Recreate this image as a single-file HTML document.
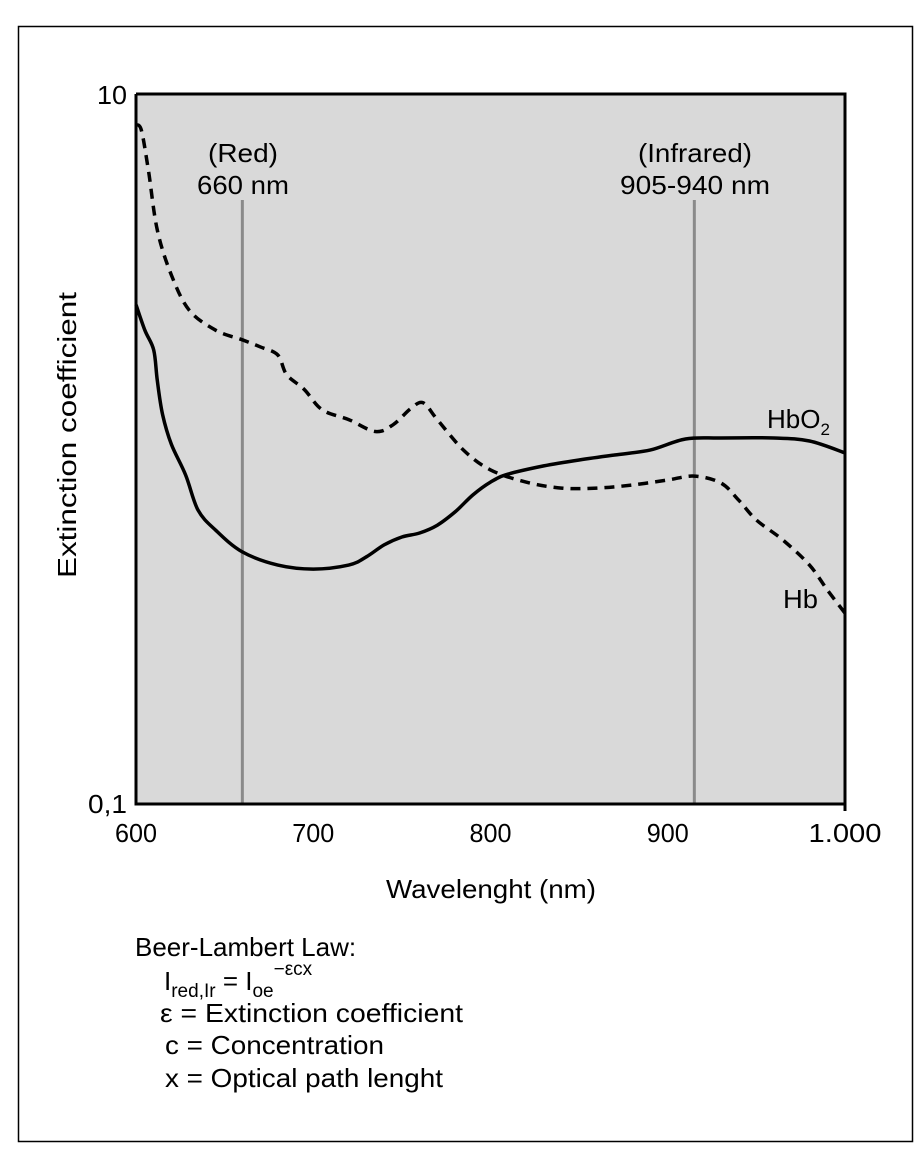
<!DOCTYPE html>
<html><head><meta charset="utf-8"><style>
html,body{margin:0;padding:0;background:#fff;}
svg{display:block;font-family:"Liberation Sans",Arial,sans-serif;}
</style></head><body>
<svg id="chart" width="924" height="1154" viewBox="0 0 924 1154" xmlns="http://www.w3.org/2000/svg">
<rect x="18.5" y="26.5" width="894" height="1115" fill="none" stroke="#000" stroke-width="1.5"/>
<rect x="136" y="94" width="709" height="710" fill="#d9d9d9"/>
<g id="marks"></g>
<path d="M136,94 H845 V811 M845,804 H136 V94" fill="none" stroke="#000" stroke-width="3"/>
<g font-size="26" fill="#000">
<text x="127" y="104" text-anchor="end" textLength="30" lengthAdjust="spacingAndGlyphs">10</text>
<text x="127" y="813" text-anchor="end" textLength="39" lengthAdjust="spacingAndGlyphs">0,1</text>
<text x="243" y="162" text-anchor="middle" textLength="70" lengthAdjust="spacingAndGlyphs">(Red)</text>
<text x="243" y="194" text-anchor="middle" textLength="92" lengthAdjust="spacingAndGlyphs">660 nm</text>
<text x="695" y="162" text-anchor="middle" textLength="114" lengthAdjust="spacingAndGlyphs">(Infrared)</text>
<text x="695" y="194" text-anchor="middle" textLength="150" lengthAdjust="spacingAndGlyphs">905-940 nm</text>
<text x="767" y="428">HbO<tspan font-size="17" dy="7">2</tspan></text>
<text x="783" y="608" textLength="35" lengthAdjust="spacingAndGlyphs">Hb</text>
<text x="491" y="898" text-anchor="middle" textLength="210" lengthAdjust="spacingAndGlyphs">Wavelenght (nm)</text>
<text transform="translate(76,435) rotate(-90)" text-anchor="middle" textLength="286" lengthAdjust="spacingAndGlyphs">Extinction coefficient</text>
<g>
<text x="135" y="956">Beer-Lambert Law:</text>
<text x="164" y="990">I<tspan font-size="19" dy="7">red,Ir</tspan><tspan dy="-7"> = I</tspan><tspan font-size="19" dy="7">oe</tspan><tspan font-size="19" dy="-22">−εcx</tspan></text>
<text x="160" y="1022" textLength="303" lengthAdjust="spacingAndGlyphs">ε = Extinction coefficient</text>
<text x="165" y="1054" textLength="219" lengthAdjust="spacingAndGlyphs">c = Concentration</text>
<text x="165" y="1087" textLength="278" lengthAdjust="spacingAndGlyphs">x = Optical path lenght</text>
</g>
</g>
<g id="xticks" font-size="26"></g>
</svg>
<script>
const xTicks=[600,700,800,900,1000];
const xTickLabels=["600","700","800","900","1.000"];
const markerWavelengths=[660,915];
const hbo2X=[600,605,610,612,615,620,628,635,645,660,680,700,720,730,740,750,760,770,780,790,800,810,830,850,870,890,910,930,960,980,1000];
const hbo2Y=[2.55,2.16,1.90,1.56,1.25,1.03,0.845,0.673,0.59,0.513,0.471,0.459,0.471,0.497,0.537,0.565,0.58,0.61,0.665,0.742,0.807,0.85,0.896,0.931,0.962,0.993,1.067,1.074,1.074,1.053,0.975];
const hbX=[600,603,607,612,620,630,645,660,670,680,685,695,705,720,735,745,755,762,770,785,800,820,840,860,880,900,915,930,940,950,965,980,990,1000];
const hbY=[8.18,7.92,6.1,4.14,3.09,2.46,2.16,2.03,1.94,1.84,1.62,1.47,1.29,1.21,1.12,1.17,1.30,1.35,1.21,0.99,0.873,0.807,0.776,0.776,0.792,0.818,0.839,0.802,0.718,0.631,0.554,0.471,0.401,0.345];
const X0=136,X1=845,Y0=804,Y1=94;
function sx(v){return X0+(v-600)/(1000-600)*(X1-X0);}
function sy(v){return Y0-(Math.log10(v)-Math.log10(0.1))/(Math.log10(10)-Math.log10(0.1))*(Y0-Y1);}
function smooth(xs,ys){
  const p=xs.map((x,i)=>[sx(x),sy(ys[i])]);
  let d="M"+p[0][0].toFixed(1)+","+p[0][1].toFixed(1);
  for(let i=0;i<p.length-1;i++){
    const a=p[i-1]||p[i],b=p[i],c=p[i+1],e=p[i+2]||c;
    const c1=[b[0]+(c[0]-a[0])/6,b[1]+(c[1]-a[1])/6],c2=[c[0]-(e[0]-b[0])/6,c[1]-(e[1]-b[1])/6];
    d+=" C"+c1[0].toFixed(1)+","+c1[1].toFixed(1)+" "+c2[0].toFixed(1)+","+c2[1].toFixed(1)+" "+c[0].toFixed(1)+","+c[1].toFixed(1);
  }
  return d;
}
const NS="http://www.w3.org/2000/svg";
const marks=document.getElementById("marks");
markerWavelengths.forEach(w=>{
  const l=document.createElementNS(NS,"line");
  
  
  l.setAttribute("x1",sx(w));l.setAttribute("x2",sx(w));
  l.setAttribute("y1",200);l.setAttribute("y2",Y0);
  l.setAttribute("stroke","#8a8a8a");l.setAttribute("stroke-width","3");
  marks.appendChild(l);
});
const s1=document.createElementNS(NS,"path");


s1.setAttribute("d",smooth(hbo2X,hbo2Y));
s1.setAttribute("fill","none");s1.setAttribute("stroke","#000");s1.setAttribute("stroke-width","3.5");
marks.appendChild(s1);
const s2=document.createElementNS(NS,"path");


s2.setAttribute("d",smooth(hbX,hbY));
s2.setAttribute("fill","none");s2.setAttribute("stroke","#000");s2.setAttribute("stroke-width","3.5");
s2.setAttribute("stroke-dasharray","10 7");
marks.appendChild(s2);
const xt=document.getElementById("xticks");
const tickW=[42,42,42,42,73];
xTicks.forEach((t,i)=>{
  const tx=document.createElementNS(NS,"text");
  
  
  tx.setAttribute("x",sx(t));tx.setAttribute("y",842);
  tx.setAttribute("text-anchor","middle");
  tx.setAttribute("textLength",tickW[i]);
  tx.setAttribute("lengthAdjust","spacingAndGlyphs");
  tx.textContent=xTickLabels[i];
  xt.appendChild(tx);
});
</script>
</body></html>
